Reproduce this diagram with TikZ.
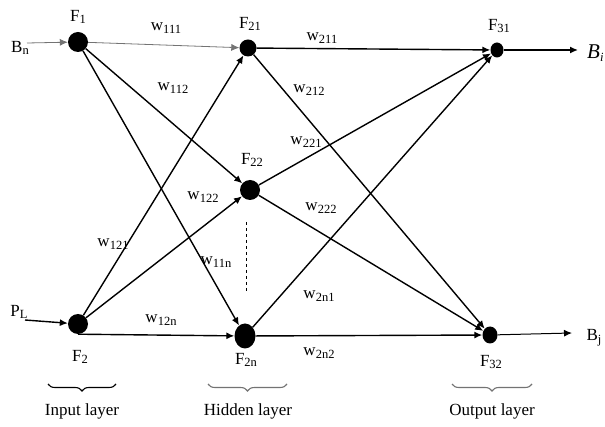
\documentclass[tikz,border=0pt]{standalone}
\usepackage{fontspec}
\setmainfont{Liberation Serif}
\usetikzlibrary{arrows.meta,decorations.pathreplacing,shapes.geometric}
\newcommand\sbx[2]{#1\raisebox{-0.35ex}{\fontsize{12.5}{12.5}\selectfont #2}}
\begin{document}
\begin{tikzpicture}[x=1pt,y=-1pt,
  neuron/.style={circle,fill=black,inner sep=0pt,minimum size=#1},
  oval/.style={ellipse,fill=black,inner sep=0pt},
  conn/.style={draw=black,line width=1.4pt,-{Latex[length=8pt,width=7pt]}},
  thinconn/.style={draw=black!55,line width=0.8pt,-{Latex[length=8pt,width=7pt]}},
  lbl/.style={font=\fontsize{17}{19}\selectfont,inner sep=0pt},
  brc/.style={decorate,decoration={brace,mirror,amplitude=7pt},line width=1.1pt}]
\useasboundingbox (0,0) rectangle (605,427);
% neurons
\node[neuron=20pt] (F1) at (78,42) {};
\node[neuron=17pt] (F21) at (248,48) {};
\node[oval,minimum width=13pt,minimum height=15pt] (F31) at (497,50) {};
\node[neuron=20pt] (F22) at (250,190) {};
\node[neuron=20pt] (F2) at (78,324) {};
\node[oval,minimum width=21pt,minimum height=25pt] (F2n) at (245,336) {};
\node[oval,minimum width=15pt,minimum height=17pt] (F32) at (490,335) {};
% free ends
\coordinate (in1) at (27,43);
\coordinate (in2) at (25,320);
\coordinate (out1) at (578,50);
\coordinate (out2) at (572,333);
% connectors
\draw[thinconn] (in1) -- (F1);
\draw[conn] (in2) -- (F2);
\draw[thinconn] (F1) -- (F21);
\draw[conn] (F1) -- (F22);
\draw[conn] (F1) -- (F2n);
\draw[conn] (F2) -- (F21);
\draw[conn] (F2) -- (F22);
\draw[conn] (F2.south) -- (F2n);
\draw[conn] (F21) -- (F31);
\draw[conn] (F21) -- (F32);
\draw[conn] (F22) -- (F31);
\draw[conn] (F22) -- (F32);
\draw[conn] (F2n) -- (F31);
\draw[conn] (F2n) -- (F32);
\draw[conn] (F31) -- (out1);
\draw[conn,line width=1pt] (F32) -- (out2);
\draw[dashed,line width=0.8pt] (246,222) -- (246,292);
% node labels
\node[lbl] (lF1) at (78,17) {\sbx{F}{1}};
\node[lbl] (lF21) at (250,24) {\sbx{F}{21}};
\node[lbl] (lF31) at (499,26) {\sbx{F}{31}};
\node[lbl] (lF22) at (252,160) {\sbx{F}{22}};
\node[lbl] (lF2) at (80,357) {\sbx{F}{2}};
\node[lbl] (lF2n) at (246,360) {\sbx{F}{2n}};
\node[lbl] (lF32) at (491,362) {\sbx{F}{32}};
\node[lbl] (lBn) at (20,48) {\sbx{B}{n}};
\node[lbl] (lPL) at (19,312) {\sbx{P}{L}};
\node[lbl,anchor=west,font=\fontsize{21}{23}\selectfont] (lBi) at (587,53) {\sbx{\textit{B}}{\textit{i}}};
\node[lbl] (lBj) at (594,338) {\sbx{B}{j}};
% weight labels
\node[lbl] (w111) at (166,28) {\sbx{w}{111}};
\node[lbl] (w112) at (173,88) {\sbx{w}{112}};
\node[lbl] (w211) at (322,38) {\sbx{w}{211}};
\node[lbl] (w212) at (309,90) {\sbx{w}{212}};
\node[lbl] (w221) at (306,142) {\sbx{w}{221}};
\node[lbl] (w122) at (203,197) {\sbx{w}{122}};
\node[lbl] (w222) at (321,208) {\sbx{w}{222}};
\node[lbl] (w121) at (113,244) {\sbx{w}{121}};
\node[lbl] (w11n) at (216,262) {\sbx{w}{11n}};
\node[lbl] (w2n1) at (319,296) {\sbx{w}{2n1}};
\node[lbl] (w12n) at (161,320) {\sbx{w}{12n}};
\node[lbl] (w2n2) at (319,353) {\sbx{w}{2n2}};
% braces
\draw[brc] (48,384) -- (116,384);
\draw[brc,draw=black!55] (208,384) -- (287,384);
\draw[brc,draw=black!55] (452,384) -- (532,384);
\node[lbl] (Lin) at (82,411) {Input layer};
\node[lbl] (Lhid) at (248,411) {Hidden layer};
\node[lbl] (Lout) at (492,411) {Output layer};
\end{tikzpicture}
\end{document}
